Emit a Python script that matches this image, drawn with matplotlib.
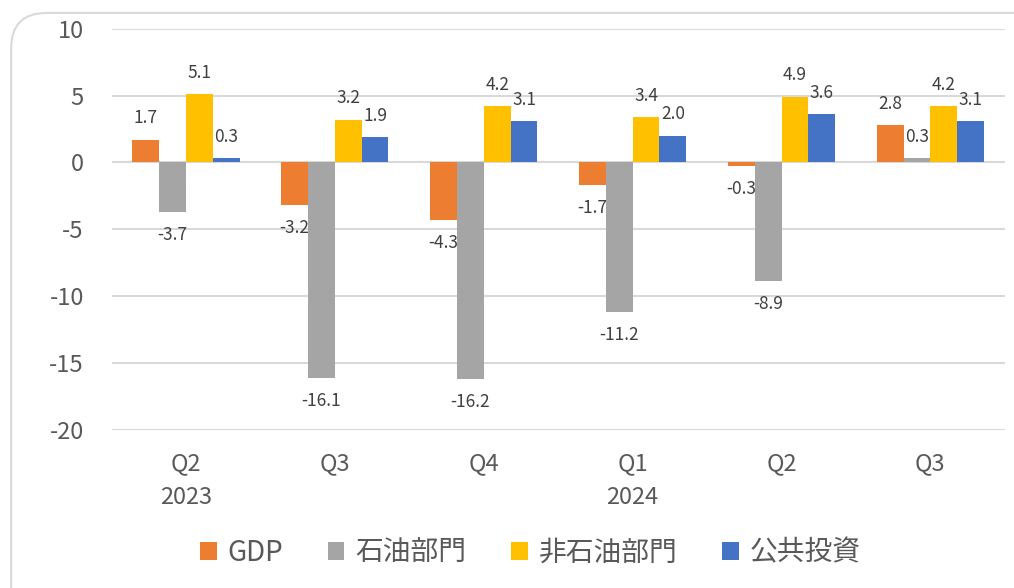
import numpy as np
import matplotlib.pyplot as plt
from matplotlib.patches import FancyBboxPatch

plt.rcParams['font.family'] = ['Noto Sans CJK JP', 'DejaVu Sans']
plt.rcParams['axes.unicode_minus'] = False

# 类别和数据
categories = ['Q2\n2023', 'Q3', 'Q4', 'Q1\n2024', 'Q2', 'Q3']
series_names = ['GDP', '石油部門', '非石油部門', '公共投資']
gdp = [1.7, -3.2, -4.3, -1.7, -0.3, 2.8]
oil = [-3.7, -16.1, -16.2, -11.2, -8.9, 0.3]
non_oil = [5.1, 3.2, 4.2, 3.4, 4.9, 4.2]
public_inv = [0.3, 1.9, 3.1, 2.0, 3.6, 3.1]
colors = ['#ED7D31', '#A5A5A5', '#FFC000', '#4472C4']


def plot_growth(values, names, colors, save_path='out.png'):
    """
    Draw grouped bar chart with value labels.

    :param values: list, series values.
    :param names: list, series names.
    :param colors: list, bar colors.
    :param save_path: str, output file.
    """
    fig = plt.figure(figsize=(10.14, 5.88), dpi=100)
    ax = fig.add_axes([0.110, 0.269, 0.881, 0.682])

    # 圆角边框
    frame = FancyBboxPatch((0.011, -0.1), 1.2, 1.078, boxstyle='round,pad=0,rounding_size=0.035',
                           transform=fig.transFigure, facecolor='none', edgecolor='#D9D9D9',
                           linewidth=1.5, mutation_aspect=1.72, zorder=0)
    fig.patches.append(frame)

    x = np.arange(len(categories))
    width = 0.18
    for i, (vals, name, c) in enumerate(zip(values, names, colors)):
        pos = x + (i - 1.5) * width
        plt.bar(pos, vals, width, color=c, label=name, zorder=3)
        for px, v in zip(pos, vals):
            if v >= 0:
                plt.annotate(f'{v:.1f}', (px, v), xytext=(0, 9), textcoords='offset points',
                             ha='center', va='bottom', fontsize=12.5, color='#404040')
            else:
                plt.annotate(f'{v:.1f}', (px, v), xytext=(0, -10), textcoords='offset points',
                             ha='center', va='top', fontsize=12.5, color='#404040')

    plt.ylim(-20, 10)
    plt.xlim(-0.5, len(categories) - 0.5)
    plt.yticks(np.arange(-20, 11, 5), fontsize=17, color='#595959')
    plt.xticks(x, categories, fontsize=17, color='#595959', linespacing=1.6)
    ax.tick_params(axis='x', length=0, pad=16)
    ax.tick_params(axis='y', length=0, pad=20)
    plt.grid(axis='y', color='#D9D9D9', linewidth=1.5, zorder=0)
    for s in ax.spines.values():
        s.set_visible(False)

    # 图例
    fig.legend(loc='center', bbox_to_anchor=(0.523, 0.06), ncol=4, frameon=False,
               fontsize=20, handlelength=0.6, handleheight=0.6, handletextpad=0.4,
               columnspacing=1.6, labelcolor='#595959')

    plt.savefig(save_path)


plot_growth([gdp, oil, non_oil, public_inv], series_names, colors)
